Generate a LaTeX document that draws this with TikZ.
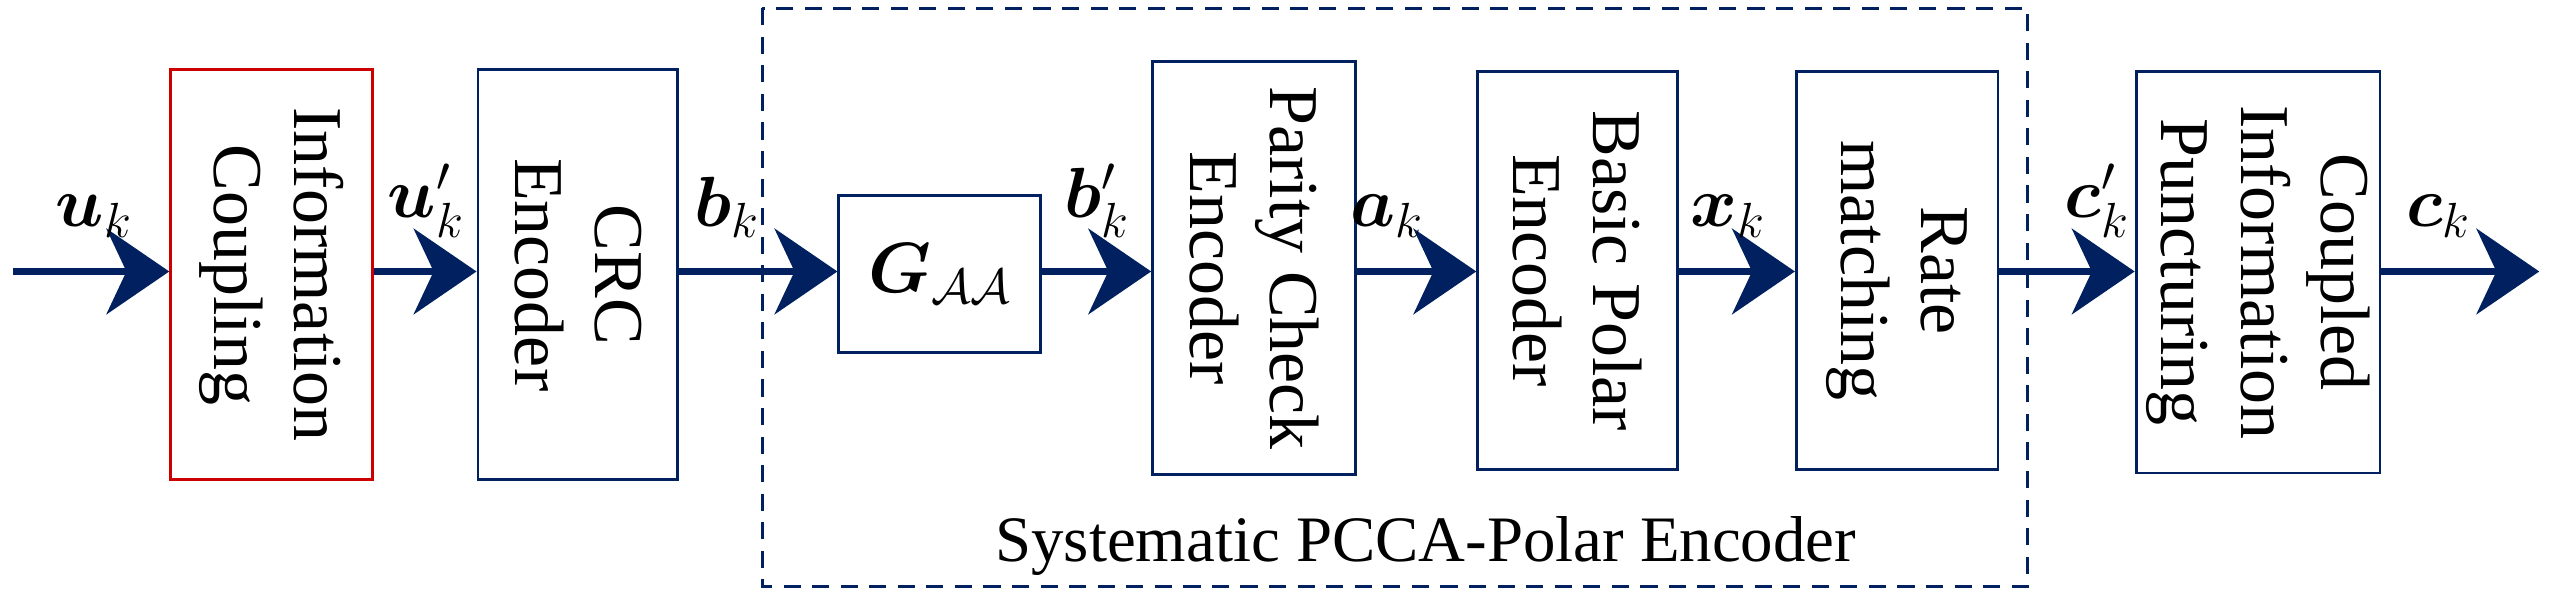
\documentclass[tikz,border=0pt]{standalone}
\usepackage{amsmath,bm}
\usepackage{fontspec}
\setmainfont{Liberation Serif}
\usetikzlibrary{arrows.meta}
\definecolor{navy}{RGB}{0,32,96}
\begin{document}
\begin{tikzpicture}[x=0.02cm,y=-0.02cm,
  blk/.style={draw=navy,line width=1pt,inner sep=0pt},
  txt/.style={rotate=-90,align=center,font=\fontsize{24.5}{28}\selectfont},
  lab/.style={font=\fontsize{26}{30}\selectfont,anchor=south},
  arr/.style={draw=navy,line width=2.2pt,-{Stealth[length=22pt,width=30pt,inset=7pt]}}]
\useasboundingbox (0,0) rectangle (1568,368);
\draw[navy,line width=1pt,dash pattern=on 6pt off 4pt] (469,5) rectangle (1247,361);
\node[blk,draw=red!80!black,minimum width=124*0.02cm,minimum height=252*0.02cm] (ic) at (167,169) {};
\node[txt] at (ic) {Information\\Coupling};
\node[blk,minimum width=123*0.02cm,minimum height=252*0.02cm] (crc) at (355.5,169) {};
\node[txt] at (crc) {CRC\\Encoder};
\node[blk,minimum width=124*0.02cm,minimum height=97*0.02cm] (g) at (578,168.5) {};
\node[font=\fontsize{26}{30}\selectfont] at (g) {$\bm{G}_{\mathcal{A}\mathcal{A}}$};
\node[blk,minimum width=125*0.02cm,minimum height=254*0.02cm] (pc) at (771.5,165) {};
\node[txt] at (pc) {Parity Check\\Encoder};
\node[blk,minimum width=123*0.02cm,minimum height=245*0.02cm] (bp) at (970.5,166.5) {};
\node[txt] at (bp) {Basic Polar\\Encoder};
\node[blk,minimum width=124*0.02cm,minimum height=245*0.02cm] (rm) at (1167,166.5) {};
\node[txt] at (rm) {Rate\\matching};
\node[blk,minimum width=150*0.02cm,minimum height=247*0.02cm] (cp) at (1389,167.5) {};
\node[txt] at (cp) {Coupled\\Information\\Puncturing};
\coordinate (in) at (8,167);
\coordinate (out) at (1562,167);
\draw[arr] (in) -- (ic.west|-in);
\draw[arr] (ic.east|-in) -- (crc.west|-in);
\draw[arr] (crc.east|-in) -- (g.west|-in);
\draw[arr] (g.east|-in) -- (pc.west|-in);
\draw[arr] (pc.east|-in) -- (bp.west|-in);
\draw[arr] (bp.east|-in) -- (rm.west|-in);
\draw[arr] (rm.east|-in) -- (cp.west|-in);
\draw[arr] (cp.east|-in) -- (out);
\node[lab] (l1) at (58,152) {$\bm{u}_k$};
\node[lab] (l2) at (262,152) {$\bm{u}'_k$};
\node[lab] (l3) at (447,152) {$\bm{b}_k$};
\node[lab] (l4) at (675,152) {$\bm{b}'_k$};
\node[lab] (l5) at (853,152) {$\bm{a}_k$};
\node[lab] (l6) at (1063,152) {$\bm{x}_k$};
\node[lab] (l7) at (1290,152) {$\bm{c}'_k$};
\node[lab] (l8) at (1500,152) {$\bm{c}_k$};
\node[font=\fontsize{22.7}{27}\selectfont] (sys) at (877,336) {Systematic PCCA-Polar Encoder};
\end{tikzpicture}
\end{document}
